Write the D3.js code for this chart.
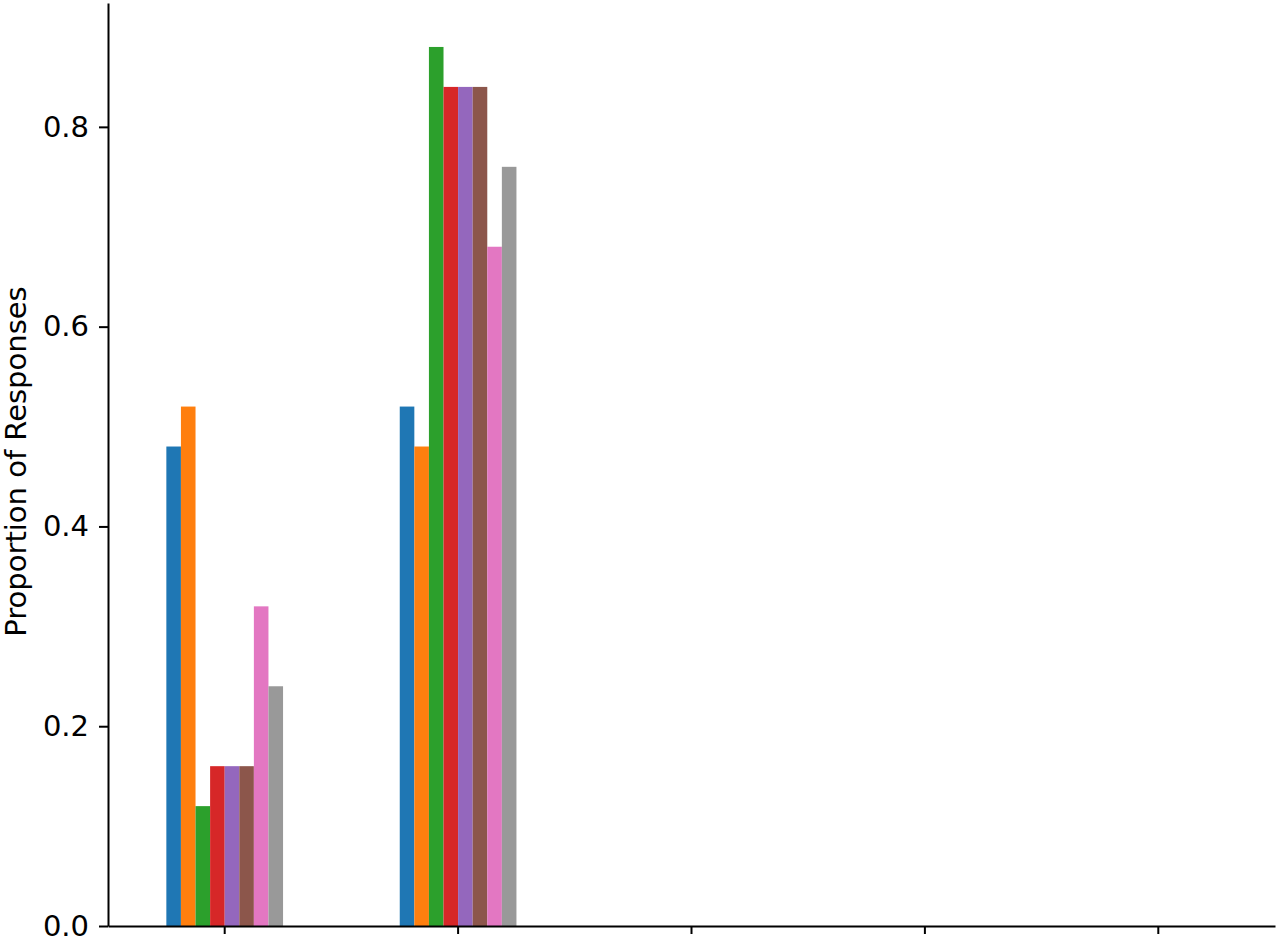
<!doctype html>
<html lang="en">
<head>
<meta charset="utf-8">
<title>Proportion of Responses</title>
<script src="https://d3js.org/d3.v7.min.js"></script>
<style>
    body { margin: 0; background: #fff; }
    text { font-family: "DejaVu Sans", sans-serif; fill: #000; }
    .axis path, .axis line { stroke: #000; stroke-width: 2; }
</style>
</head>
<body>
<svg id="chart" width="1280" height="942"></svg>
<script>
    // categories have no visible tick labels
    const categories = ["A", "B", "C", "D", "E"];
    const seriesNames = ["s1", "s2", "s3", "s4", "s5", "s6", "s7", "s8"];
    const seriesValues = [
        [0.48, 0.52, 0, 0, 0],
        [0.52, 0.48, 0, 0, 0],
        [0.12, 0.88, 0, 0, 0],
        [0.16, 0.84, 0, 0, 0],
        [0.16, 0.84, 0, 0, 0],
        [0.16, 0.84, 0, 0, 0],
        [0.32, 0.68, 0, 0, 0],
        [0.24, 0.76, 0, 0, 0]
    ];
    const yTickValues = [0, 0.2, 0.4, 0.6, 0.8];
    const colors = ["#1f77b4", "#ff7f0e", "#2ca02c", "#d62728", "#9467bd", "#8c564b", "#e377c2", "#999999"];

    const margin = {left: 108, right: 5, top: 3, bottom: 16};
    const width = 1280 - margin.left - margin.right;
    const height = 942 - margin.top - margin.bottom;

    const svg = d3.select("#chart");
    const g = svg.append("g").attr("transform", `translate(${margin.left},${margin.top})`);

    const x = d3.scaleBand().domain(categories).range([0, width]);
    const inner = d3.scaleBand().domain(seriesNames)
        .range([x.bandwidth() * 0.25, x.bandwidth() * 0.75]);

    const yMax = d3.max(seriesValues.flat()) * 1.05;
    const y = d3.scaleLinear().domain([0, yMax]).range([height, 0]);

    seriesValues.forEach((vals, si) => {
        g.selectAll(".bar-" + si)
            .data(vals)
            .enter().append("rect")
            .attr("class", "bar-" + si)
            .attr("x", (d, i) => x(categories[i]) + inner(seriesNames[si]))
            .attr("y", d => y(d))
            .attr("width", inner.bandwidth())
            .attr("height", d => height - y(d))
            .attr("fill", colors[si]);
    });

    g.append("g")
        .attr("class", "axis")
        .attr("transform", `translate(0,${height})`)
        .call(d3.axisBottom(x).tickSize(8).tickSizeOuter(0).tickFormat(""));

    const yAxis = g.append("g")
        .attr("class", "axis")
        .call(d3.axisLeft(y).tickValues(yTickValues).tickSize(9).tickSizeOuter(0)
            .tickFormat(d3.format(".1f")));
    yAxis.selectAll("text")
        .style("font-size", "29px")
        .attr("x", -19);

    g.append("text")
        .attr("transform", "rotate(-90)")
        .attr("x", -height / 2 + 3)
        .attr("y", -margin.left + 26)
        .attr("text-anchor", "middle")
        .style("font-size", "29px")
        .text("Proportion of Responses");
</script>
</body>
</html>
